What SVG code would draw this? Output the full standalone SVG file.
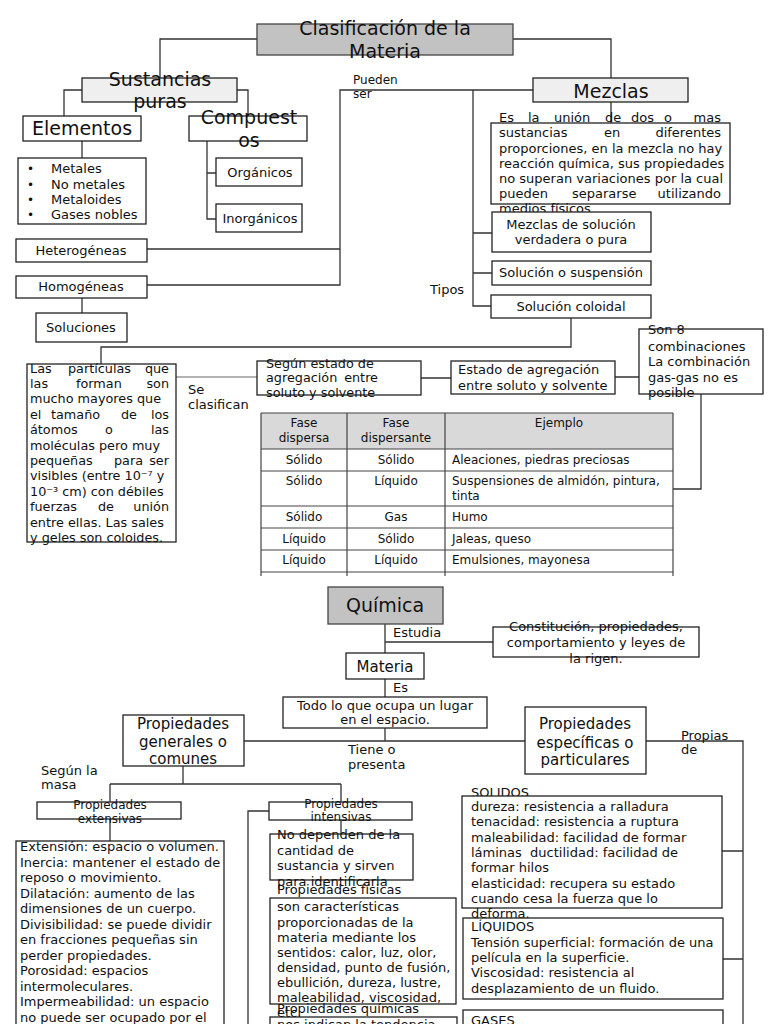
<svg xmlns="http://www.w3.org/2000/svg" width="768" height="1024" viewBox="0 0 768 1024">
<style>
.b{fill:#fff;stroke:#222;stroke-width:1.3}
.lg{fill:#efefef;stroke:#222;stroke-width:1.3}
.dg{fill:#c2c2c2;stroke:#444;stroke-width:1.3}
.ln{fill:none;stroke:#333;stroke-width:1.3}
.gl{fill:none;stroke:#999;stroke-width:1.3}
.tb{fill:none;stroke:#444;stroke-width:1.2}
text{font-family:"DejaVu Sans",sans-serif;font-size:13px;fill:#111;white-space:pre}
.h{font-size:19px}
.m{font-size:15px}
.s{font-size:12px}
.p{font-size:12.8px}
.c{text-anchor:middle}
.e{text-anchor:end}
</style>
<rect width="768" height="1024" fill="#fff"/>
<g id="connectors">
<path class="ln" d="M257,39H160V78M513,39H611V78M82,90H64V116M237,90H248V116M82,141V158M207,141V219H216M207,173H216"/>
<path class="ln" d="M533,90H340V285H147M340,249H147M611,102V123M473,90V306H491M473,233H492M473,273H492M82,298V313M571,318V347H101V364"/>
<path class="gl" d="M176,377H257"/>
<path class="ln" d="M421,378H451M615,377H639M701,394V489H673"/>
<path class="ln" d="M385,624V653M385,642H493M385,679V697M385,728V741M244,741H525M646,741H743V1024M722,851H743M723,959H743"/>
<path class="ln" d="M183,766V784M110,784H341M110,784V802M341,784V802M110,819V841M269,811H248V1024M341,820V834"/>
</g>
<g id="titulo"><rect class="dg" x="257" y="24" width="256" height="31"/><text class="h c" x="385" y="35">Clasificación de la</text><text class="h c" x="385" y="58">Materia</text></g>
<g id="sustancias"><rect class="lg" x="82" y="78" width="155" height="24"/><text class="h c" x="160" y="86">Sustancias</text><text class="h c" x="160" y="108">puras</text></g>
<g id="elementos"><rect class="b" x="23" y="116" width="118" height="25"/><text class="h c" x="82" y="135">Elementos</text></g>
<g id="compuestos"><rect class="b" x="189" y="116" width="118" height="25"/><text class="h c" x="249" y="124">Compuest</text><text class="h c" x="249" y="147">os</text></g>
<g id="lista"><rect class="b" x="18" y="158" width="128" height="66"/>
<text x="27" y="173" class="s">•</text><text x="51" y="173">Metales</text>
<text x="27" y="189" class="s">•</text><text x="51" y="189">No metales</text>
<text x="27" y="204" class="s">•</text><text x="51" y="204">Metaloides</text>
<text x="27" y="219" class="s">•</text><text x="51" y="219">Gases nobles</text></g>
<g id="organicos"><rect class="b" x="216" y="158" width="86" height="28"/><text class="c" x="260" y="177">Orgánicos</text></g>
<g id="inorganicos"><rect class="b" x="216" y="204" width="86" height="28"/><text class="c" x="260" y="223">Inorgánicos</text></g>
<g id="pueden"><text class="s" x="353" y="84">Pueden</text><text class="s" x="353" y="98">ser</text></g>
<g id="mezclas"><rect class="lg" x="533" y="78" width="155" height="24"/><text class="h c" x="611" y="98">Mezclas</text></g>
<g id="definicion"><rect class="b" x="491" y="123" width="239" height="81"/>
<text x="499" y="122">Es</text><text x="528" y="122">la</text><text x="554" y="122">unión</text><text x="605" y="122">de</text><text x="631" y="122">dos</text><text x="664" y="122">o</text><text class="e" x="721" y="122">mas</text>
<text x="499" y="137">sustancias</text><text x="604" y="137">en</text><text class="e" x="721" y="137">diferentes</text>
<text x="499" y="153">proporciones, en la mezcla no hay</text>
<text x="499" y="168">reacción química, sus propiedades</text>
<text x="499" y="183">no superan variaciones por la cual</text>
<text x="499" y="198">pueden</text><text x="572" y="198">separarse</text><text class="e" x="721" y="198">utilizando</text>
<text x="499" y="213">medios físicos</text></g>
<g id="heterogeneas"><rect class="b" x="16" y="239" width="131" height="23"/><text class="c" x="81" y="255">Heterogéneas</text></g>
<g id="homogeneas"><rect class="b" x="16" y="276" width="131" height="22"/><text class="c" x="81" y="291">Homogéneas</text></g>
<g id="soluciones"><rect class="b" x="36" y="313" width="91" height="29"/><text class="c" x="81" y="332">Soluciones</text></g>
<g id="verdadera"><rect class="b" x="492" y="212" width="159" height="40"/><text class="c" x="571" y="229">Mezclas de solución</text><text class="c" x="571" y="244">verdadera o pura</text></g>
<g id="suspension"><rect class="b" x="492" y="261" width="159" height="24"/><text class="c" x="571" y="277">Solución o suspensión</text></g>
<g id="coloidal"><rect class="b" x="491" y="295" width="160" height="23"/><text class="c" x="571" y="311">Solución coloidal</text></g>
<g id="tipos"><text x="430" y="294">Tipos</text></g>
<g id="particulas"><rect class="b" x="27" y="364" width="149" height="178"/>
<text class="p" x="30" y="373">Las</text><text class="p" x="68" y="373">partículas</text><text class="p e" x="169" y="373">que</text>
<text class="p" x="30" y="388">las</text><text class="p" x="76" y="388">forman</text><text class="p e" x="169" y="388">son</text>
<text class="p" x="30" y="403">mucho mayores que</text>
<text class="p" x="30" y="419">el</text><text class="p" x="51" y="419">tamaño</text><text class="p" x="121" y="419">de</text><text class="p e" x="169" y="419">los</text>
<text class="p" x="30" y="434">átomos</text><text class="p" x="105" y="434">o</text><text class="p e" x="169" y="434">las</text>
<text class="p" x="30" y="450">moléculas pero muy</text>
<text class="p" x="30" y="465">pequeñas</text><text class="p" x="114" y="465">para</text><text class="p e" x="169" y="465">ser</text>
<text class="p" x="30" y="480">visibles (entre 10⁻⁷ y</text>
<text class="p" x="30" y="496">10⁻³ cm) con débiles</text>
<text class="p" x="30" y="511">fuerzas</text><text class="p" x="98" y="511">de</text><text class="p e" x="169" y="511">unión</text>
<text class="p" x="30" y="527">entre ellas. Las sales</text>
<text class="p" x="30" y="542">y geles son coloides.</text></g>
<g id="se-clasifican"><text x="188" y="394">Se</text><text x="188" y="409">clasifican</text></g>
<g id="segun"><rect class="b" x="257" y="361" width="164" height="34"/><text class="p" x="266" y="368">Según estado de</text><text class="p" x="266" y="382">agregación</text><text class="p e" x="378" y="382">entre</text><text class="p" x="266" y="397">soluto y solvente</text></g>
<g id="estado"><rect class="b" x="451" y="361" width="164" height="33"/><text x="458" y="374">Estado de agregación</text><text x="458" y="390">entre soluto y solvente</text></g>
<g id="combinaciones"><rect class="b" x="639" y="329" width="124" height="65"/><text x="648" y="334">Son 8</text><text x="648" y="351">combinaciones</text><text x="648" y="366">La combinación</text><text x="648" y="382">gas-gas no es</text><text x="648" y="397">posible</text></g>
<g id="tabla">
<rect x="261" y="413" width="412" height="36" fill="#d9d9d9"/>
<path class="tb" d="M261,413V576M347,413V576M445,413V576M673,413V576M261,413H673M261,449H673M261,471H673M261,506H673M261,528H673M261,550H673M261,572H673"/>
<text class="s c" x="304" y="427">Fase</text><text class="s c" x="304" y="442">dispersa</text>
<text class="s c" x="396" y="427">Fase</text><text class="s c" x="396" y="442">dispersante</text>
<text class="s c" x="559" y="427">Ejemplo</text>
<text class="s c" x="304" y="464">Sólido</text><text class="s c" x="396" y="464">Sólido</text><text class="s" x="452" y="464">Aleaciones, piedras preciosas</text>
<text class="s c" x="304" y="485">Sólido</text><text class="s c" x="396" y="485">Líquido</text><text class="s" x="452" y="485">Suspensiones de almidón, pintura,</text><text class="s" x="452" y="500">tinta</text>
<text class="s c" x="304" y="521">Sólido</text><text class="s c" x="396" y="521">Gas</text><text class="s" x="452" y="521">Humo</text>
<text class="s c" x="304" y="543">Líquido</text><text class="s c" x="396" y="543">Sólido</text><text class="s" x="452" y="543">Jaleas, queso</text>
<text class="s c" x="304" y="564">Líquido</text><text class="s c" x="396" y="564">Líquido</text><text class="s" x="452" y="564">Emulsiones, mayonesa</text>
</g>
<g id="quimica"><rect class="dg" x="328" y="587" width="115" height="37" fill="#c8c8c8"/><text class="h c" x="385" y="612">Química</text></g>
<g id="estudia"><text x="393" y="637">Estudia</text></g>
<g id="constitucion"><rect class="b" x="493" y="627" width="206" height="30"/><text class="c" x="596" y="631">Constitución, propiedades,</text><text class="c" x="596" y="647">comportamiento y leyes de</text><text class="c" x="596" y="663">la rigen.</text></g>
<g id="materia"><rect class="b" x="346" y="653" width="78" height="26"/><text class="m c" x="385" y="672">Materia</text></g>
<g id="es"><text x="393" y="692">Es</text></g>
<g id="todo"><rect class="b" x="283" y="697" width="204" height="31"/><text class="c" x="385" y="710">Todo lo que ocupa un lugar</text><text class="c" x="385" y="724">en el espacio.</text></g>
<g id="tiene"><text x="348" y="754">Tiene o</text><text x="348" y="769">presenta</text></g>
<g id="generales"><rect class="b" x="123" y="715" width="121" height="51"/><text class="m c" x="183" y="729">Propiedades</text><text class="m c" x="183" y="747">generales o</text><text class="m c" x="183" y="764">comunes</text></g>
<g id="especificas"><rect class="b" x="525" y="707" width="121" height="67"/><text class="m c" x="585" y="729">Propiedades</text><text class="m c" x="585" y="748">específicas o</text><text class="m c" x="585" y="765">particulares</text></g>
<g id="propias"><text x="681" y="740">Propias</text><text x="681" y="754">de</text></g>
<g id="segun-masa"><text x="41" y="775">Según la</text><text x="41" y="789">masa</text></g>
<g id="extensivas"><rect class="b" x="37" y="802" width="144" height="17"/><text class="s c" x="110" y="809">Propiedades</text><text class="s c" x="110" y="823">extensivas</text></g>
<g id="extensivas-desc"><rect class="b" x="16" y="841" width="208" height="200"/>
<text x="20" y="851">Extensión: espacio o volumen.</text>
<text x="20" y="867">Inercia: mantener el estado de</text>
<text x="20" y="882">reposo o movimiento.</text>
<text x="20" y="898">Dilatación: aumento de las</text>
<text x="20" y="913">dimensiones de un cuerpo.</text>
<text x="20" y="929">Divisibilidad: se puede dividir</text>
<text x="20" y="944">en fracciones pequeñas sin</text>
<text x="20" y="960">perder propiedades.</text>
<text x="20" y="975">Porosidad: espacios</text>
<text x="20" y="991">intermoleculares.</text>
<text x="20" y="1006">Impermeabilidad: un espacio</text>
<text x="20" y="1022">no puede ser ocupado por el</text></g>
<g id="intensivas"><rect class="b" x="269" y="802" width="143" height="18"/><text class="s c" x="341" y="808">Propiedades</text><text class="s c" x="341" y="821">intensivas</text></g>
<g id="no-dependen"><rect class="b" x="270" y="834" width="143" height="46"/><text x="277" y="839">No dependen de la</text><text x="277" y="855">cantidad de</text><text x="277" y="870">sustancia y sirven</text><text x="277" y="886">para identificarla</text></g>
<g id="fisicas"><text x="277" y="894">Propiedades físicas</text><rect class="b" x="270" y="898" width="186" height="106"/>
<text x="277" y="911">son características</text>
<text x="277" y="927">proporcionadas de la</text>
<text x="277" y="942">materia mediante los</text>
<text x="277" y="957">sentidos: calor, luz, olor,</text>
<text x="277" y="972">densidad, punto de fusión,</text>
<text x="277" y="987">ebullición, dureza, lustre,</text>
<text x="277" y="1002">maleabilidad, viscosidad,</text>
<text x="277" y="1017">etc.</text></g>
<g id="quimicas"><text x="277" y="1013">Propiedades químicas</text><rect class="b" x="270" y="1017" width="187" height="20"/><text x="277" y="1029">nos indican la tendencia</text></g>
<g id="solidos"><text x="471" y="797">SOLIDOS</text><rect class="b" x="462" y="796" width="260" height="112"/>
<text x="471" y="811">dureza: resistencia a ralladura</text>
<text x="471" y="826">tenacidad: resistencia a ruptura</text>
<text x="471" y="842">maleabilidad: facilidad de formar</text>
<text x="471" y="857">láminas  ductilidad: facilidad de</text>
<text x="471" y="872">formar hilos</text>
<text x="471" y="888">elasticidad: recupera su estado</text>
<text x="471" y="903">cuando cesa la fuerza que lo</text>
<text x="471" y="918">deforma.</text></g>
<g id="liquidos"><rect class="b" x="463" y="918" width="260" height="81"/>
<text x="471" y="931">LÍQUIDOS</text>
<text x="471" y="947">Tensión superficial: formación de una</text>
<text x="471" y="962">película en la superficie.</text>
<text x="471" y="977">Viscosidad: resistencia al</text>
<text x="471" y="993">desplazamiento de un fluido.</text></g>
<g id="gases"><rect class="b" x="463" y="1010" width="260" height="30"/><text x="471" y="1025">GASES</text></g>
</svg>
